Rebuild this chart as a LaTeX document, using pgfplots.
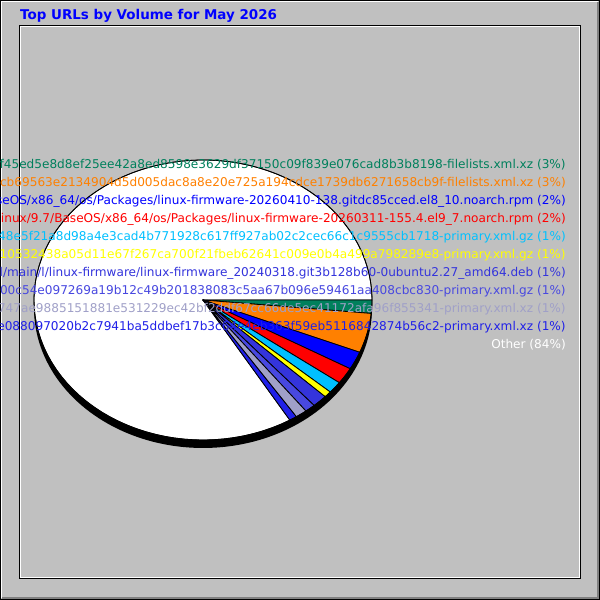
\documentclass[border=0pt]{standalone}
\usepackage{pgfplots}
\usepackage{pgfplotstable}
\pgfplotsset{compat=1.18}
\usepackage{fontspec}
\setmainfont{DejaVu Sans}
\definecolor{bgray}{HTML}{C0C0C0}
\definecolor{dgray}{HTML}{808080}
\definecolor{cA}{HTML}{00805C}
\definecolor{cB}{HTML}{FF8000}
\definecolor{cC}{HTML}{0000FF}
\definecolor{cD}{HTML}{FF0000}
\definecolor{cE}{HTML}{00C0FF}
\definecolor{cF}{HTML}{FFFF00}
\definecolor{cG}{HTML}{3434DC}
\definecolor{cH}{HTML}{4848E0}
\definecolor{cI}{HTML}{A0A0C8}
\definecolor{cJ}{HTML}{2020E8}
\definecolor{cK}{HTML}{FFFFFF}

% share of each slice (percent of the full pie)
\pgfplotstableread{
slice pct
1 1.53
2 4.56
3 2.08
4 1.89
5 1.36
6 0.72
7 1.44
8 1.00
9 1.11
10 0.72
11 83.59
}\pietable

\def\cum{0}
\pgfplotsforeachungrouped \i in {0,...,10}{%
  \pgfplotstablegetelem{\i}{pct}\of\pietable
  \pgfmathsetmacro\nxt{\cum+3.6*\pgfplotsretval}%
  \expandafter\xdef\csname sA\i\endcsname{\cum}%
  \expandafter\xdef\csname sB\i\endcsname{\nxt}%
  \xdef\cum{\nxt}%
}
\newcommand\slice[2]{%
  \fill[#2, draw=black, line width=0.8pt, line join=round]
    (axis cs:0,0) -- plot[domain=\csname sA#1\endcsname:\csname sB#1\endcsname, samples=90, variable=\t] (axis cs:{cos(\t)},{-sin(\t)}) -- cycle;
}

\begin{document}
\begin{tikzpicture}[x=1pt,y=1pt]
\useasboundingbox (0,0) rectangle (600,-600);
\clip (0,0) rectangle (600,-600);
\fill[bgray] (0,0) rectangle (600,-600);
\draw[black, line width=1pt] (0.5,-0.5) rectangle (599.5,-599.5);
\draw[white, line width=1pt] (1.5,-598) -- (1.5,-1.5) -- (598,-1.5);
\draw[dgray, line width=2pt] (2,-598) -- (598,-598) -- (598,-2);
\draw[black, line width=1pt] (19.5,-25.5) rectangle (580.5,-578.5);
\draw[white, line width=1pt] (20.5,-26.5) rectangle (579.5,-577.5);

\begin{axis}[at={(203pt,-300pt)}, anchor=center, scale only axis,
  width=338pt, height=280pt, xmin=-1, xmax=1, ymin=-1, ymax=1,
  hide axis, clip=false]
  \fill[black] plot[domain=0:360, samples=181, variable=\t] (axis cs:{cos(\t)},{-0.057-sin(\t)}) -- cycle;
  \slice{10}{cK}
  \slice{0}{cA}
  \slice{1}{cB}
  \slice{2}{cC}
  \slice{3}{cD}
  \slice{4}{cE}
  \slice{5}{cF}
  \slice{6}{cG}
  \slice{7}{cH}
  \slice{8}{cI}
  \slice{9}{cJ}
  \draw[black, line width=0.8pt] plot[domain=0:360, samples=181, variable=\t] (axis cs:{cos(\t)},{-sin(\t)}) -- cycle;
\end{axis}

\begin{scope}[every node/.style={anchor=base east, inner sep=0pt, font=\fontsize{12.1pt}{14pt}\selectfont}]
\node[text=cA] at (566,-168) {/repodata/0c1af45ed5e8d8ef25ee42a8ed8598e3629df37150c09f839e076cad8b3b8198-filelists.xml.xz (3\%)};
\node[text=cB] at (566,-186) {/repodata/b27d1cb69563e2134904d5d005dac8a8e20e725a194cdce1739db6271658cb9f-filelists.xml.xz (3\%)};
\node[text=cC] at (566,-204) {/rocky/8.10/BaseOS/x86\_64/os/Packages/linux-firmware-20260410-138.gitdc85cced.el8\_10.noarch.rpm (2\%)};
\node[text=cD] at (566,-222) {/pub/almalinux/9.7/BaseOS/x86\_64/os/Packages/linux-firmware-20260311-155.4.el9\_7.noarch.rpm (2\%)};
\node[text=cE] at (566,-240) {/repodata/e7a148e5f21a8d98a4e3cad4b771928c617ff927ab02c2cec66c1c9555cb1718-primary.xml.gz (1\%)};
\node[text=cF] at (566,-258) {/repodata/9c4d210532438a05d11e67f267ca700f21fbeb62641c009e0b4a499a798289e8-primary.xml.gz (1\%)};
\node[text=cG] at (566,-276) {/ubuntu/pool/main/l/linux-firmware/linux-firmware\_20240318.git3b128b60-0ubuntu2.27\_amd64.deb (1\%)};
\node[text=cH] at (566,-294) {/repodata/5b3e7a00c54e097269a19b12c49b201838083c5aa67b096e59461aa408cbc830-primary.xml.gz (1\%)};
\node[text=cI] at (566,-312) {/repodata/d0b2747ae9885151881e531229ec42bf2ddf67cc66de5ec41172afa96f855341-primary.xml.xz (1\%)};
\node[text=cJ] at (566,-330) {/repodata/41f9e088097020b2c7941ba5ddbef17b3c64e4eb363f59eb5116842874b56c2-primary.xml.xz (1\%)};
\node[text=cK] at (566,-348) {Other (84\%)};
\end{scope}
\node[anchor=base west, inner sep=0pt, text=blue, font=\bfseries\fontsize{13.45pt}{16pt}\selectfont] at (20,-19) {Top URLs by Volume for May 2026};
\end{tikzpicture}
\end{document}
